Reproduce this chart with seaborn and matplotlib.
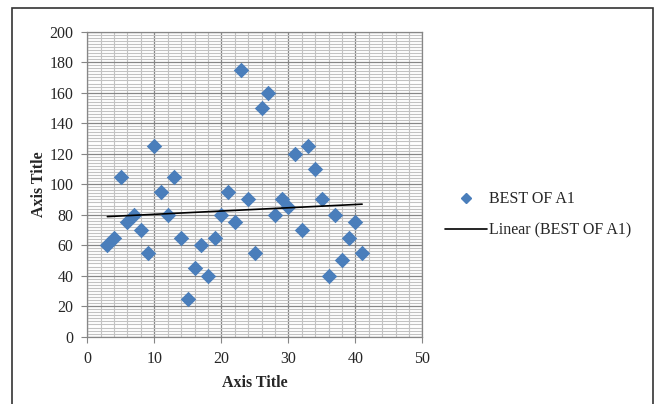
import matplotlib
matplotlib.use("Agg")
import matplotlib.pyplot as plt
import numpy as np
import pandas as pd
import seaborn as sns
from matplotlib.lines import Line2D
from matplotlib.patches import Rectangle

# series
x_values = list(range(3, 42))
best_of_a1 = [60, 65, 105, 75, 80, 70, 55, 125, 95, 80,
              105, 65, 25, 45, 60, 40, 65, 80, 95, 75,
              175, 90, 55, 150, 160, 80, 90, 85, 120, 70,
              125, 110, 90, 40, 80, 50, 65, 75, 55]
series_name = "BEST OF A1"
x_ticks = [0, 10, 20, 30, 40, 50]
y_ticks = [0, 20, 40, 60, 80, 100, 120, 140, 160, 180, 200]

df = pd.DataFrame({"x": x_values, "y": best_of_a1})

sns.set_style("white")
plt.rcParams["font.family"] = ["Liberation Serif", "DejaVu Serif"]

fig = plt.figure(figsize=(6.56, 4.04), dpi=100)
ax = fig.add_axes([0.133, 0.1666, 0.511, 0.755])

# outer chart frame
fig.patches.append(Rectangle((12 / 656, -0.05), 641 / 656, 1 - 8 / 404 + 0.05,
                             transform=fig.transFigure, fill=False,
                             edgecolor="#333333", linewidth=1.2))

# grid
ax.set_xticks(np.arange(0, 51, 2), minor=True)
ax.set_yticks(np.arange(0, 201, 2), minor=True)
ax.grid(which="minor", color="#c2c2c2", linewidth=0.8)
ax.grid(which="major", color="#868686", linewidth=0.9)
ax.set_axisbelow(True)

sns.scatterplot(data=df, x="x", y="y", marker="D", s=62, color="#4a7ebb",
                linewidth=0, ax=ax, zorder=3, legend=False)

# linear trend
slope, intercept = np.polyfit(df["x"], df["y"], 1)
xs = np.array([min(x_values), max(x_values)])
ax.plot(xs, slope * xs + intercept, color="black", linewidth=1.2, zorder=4)

ax.set_xlim(0, 50)
ax.set_ylim(0, 200)
ax.set_xticks(x_ticks)
ax.set_yticks(y_ticks)
ax.tick_params(which="major", direction="out", length=4, color="#868686",
               labelsize=11.5, pad=6, bottom=True, left=True)
ax.tick_params(which="minor", length=0)
for side in ["left", "bottom", "right", "top"]:
    ax.spines[side].set_color("#868686")
    ax.spines[side].set_linewidth(0.9)

ax.set_xlabel("Axis Title", fontweight="bold", fontsize=11.5, labelpad=6)
ax.set_ylabel("Axis Title", fontweight="bold", fontsize=11.5, labelpad=2)

handles = [
    Line2D([], [], marker="D", linestyle="none", color="#4a7ebb",
           markersize=5.5, label=series_name),
    Line2D([], [], color="black", linewidth=1.2,
           label=f"Linear ({series_name})"),
]
fig.legend(handles=handles, loc="center left", bbox_to_anchor=(0.657, 0.468),
           frameon=False, fontsize=11.5, handlelength=2.6, labelspacing=0.95,
           handletextpad=0.15)

fig.savefig("out.png", dpi=100)
